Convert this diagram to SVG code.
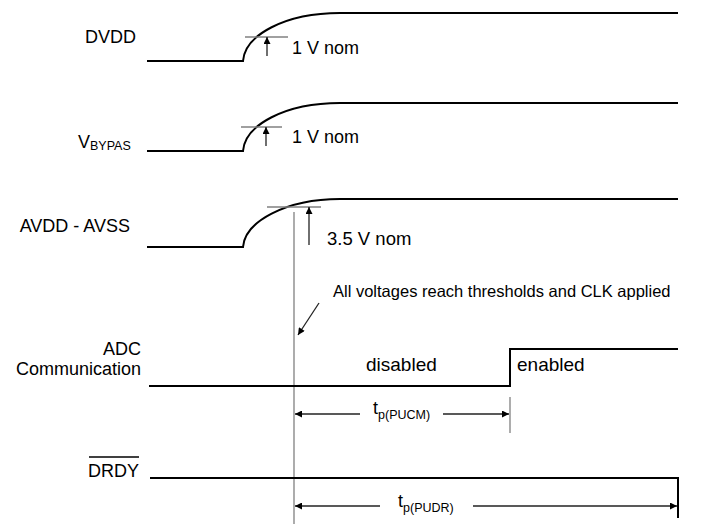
<svg xmlns="http://www.w3.org/2000/svg" width="719" height="527" viewBox="0 0 719 527">
<defs>
<marker id="ah" viewBox="0 0 10 10" refX="10" refY="5" markerWidth="9" markerHeight="7" markerUnits="userSpaceOnUse" orient="auto">
<path d="M0,0 L10,5 L0,10 z" fill="#000"/>
</marker>
<style>
.sig{fill:none;stroke:#000;stroke-width:2}
.gry{fill:none;stroke:#808080;stroke-width:1.3}
.arr{fill:none;stroke:#222;stroke-width:1.3;marker-end:url(#ah)}
text{font-family:"Liberation Sans",Arial,sans-serif;font-size:18px;fill:#000}
.sub{font-size:12.5px}
.st{font-size:19px}
</style>
</defs>
<rect width="719" height="527" fill="#fff"/>
<g id="dvdd">
<text x="136" y="43" text-anchor="end">DVDD</text>
<path class="sig" d="M147,61 H243 C245,35 285,13 340,13 H678"/>
<line class="gry" x1="245" y1="37" x2="288" y2="37"/>
<line class="arr" x1="267" y1="56" x2="267" y2="37"/>
<text x="292" y="54">1 V nom</text>
</g>
<g id="vbypas">
<text x="78" y="148">V<tspan class="sub" dy="2">BYPAS</tspan></text>
<path class="sig" d="M147,151 H243 C245,125 285,103 340,103 H678"/>
<line class="gry" x1="241" y1="127" x2="282" y2="127"/>
<line class="arr" x1="266" y1="146" x2="266" y2="127"/>
<text x="292" y="143">1 V nom</text>
</g>
<g id="avdd">
<text x="130" y="232" text-anchor="end">AVDD - AVSS</text>
<path class="sig" d="M147,247 H243 C245,222 285,199 340,199 H678"/>
<line class="gry" x1="267" y1="207" x2="321" y2="207"/>
<line class="arr" x1="309" y1="245" x2="309" y2="207"/>
<text x="327" y="245" style="font-size:18.5px">3.5 V nom</text>
</g>
<g id="threshold">
<line class="gry" x1="294" y1="212" x2="294" y2="524"/>
<text x="333" y="297" style="font-size:16.5px">All voltages reach thresholds and CLK applied</text>
</g>
<g id="adc">
<text x="141" y="355" text-anchor="end">ADC</text>
<text x="141" y="375" text-anchor="end">Communication</text>
<path class="sig" d="M149,386 H510 V349 H678"/>
<text class="st" x="366" y="371">disabled</text>
<text class="st" x="517" y="371">enabled</text>
</g>
<g id="drdy">
<text x="139" y="477" text-anchor="end">DRDY</text>
<line x1="89" y1="457" x2="139" y2="457" stroke="#000" stroke-width="1.5"/>
<path class="sig" d="M150,478 H678 V518"/>
</g>
<g id="connectors">
<line class="arr" x1="319" y1="303" x2="298" y2="335"/>
<line class="gry" x1="510" y1="397" x2="510" y2="433"/>
<line class="arr" x1="360" y1="414" x2="295" y2="414"/>
<line class="arr" x1="443" y1="414" x2="509" y2="414"/>
<line class="arr" x1="380" y1="506" x2="295" y2="506"/>
<line class="arr" x1="473" y1="506" x2="677" y2="506"/>
<text x="373" y="414">t<tspan class="sub" dy="5">p(PUCM)</tspan></text>
<text x="398" y="507">t<tspan class="sub" dy="5">p(PUDR)</tspan></text>
</g>
</svg>
